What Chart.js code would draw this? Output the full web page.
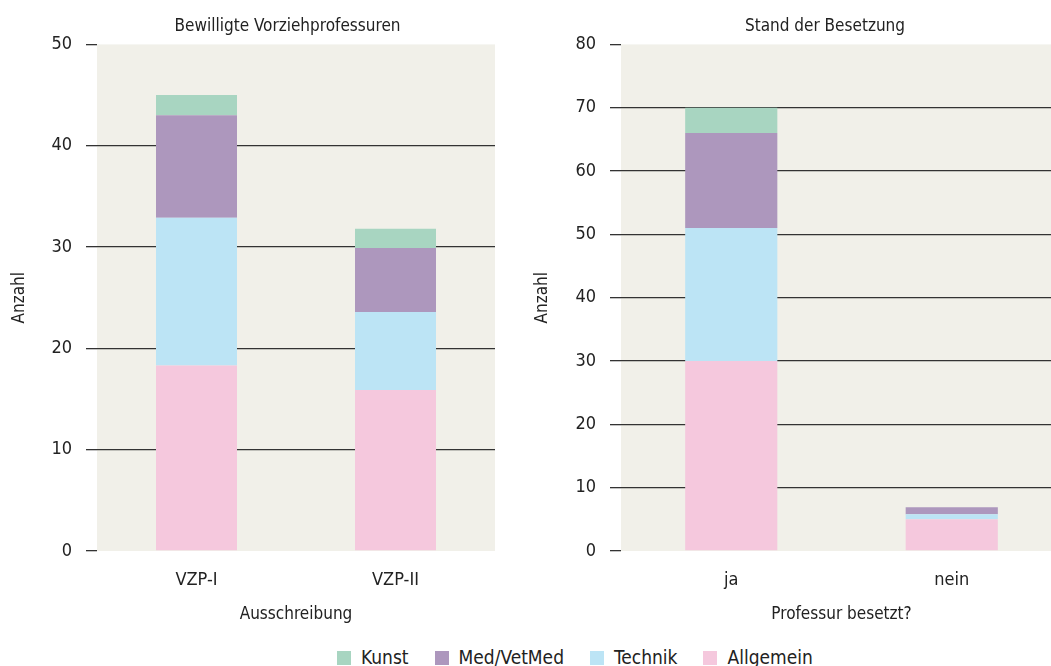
<!DOCTYPE html>
<html>
<head>
<meta charset="utf-8">
<script src="https://cdn.jsdelivr.net/npm/chart.js@4"></script>
<style>
  body { margin: 0; background: #fff; width: 1051px; height: 666px; overflow: hidden; position: relative; }
  .box { position: absolute; top: 0; height: 632px; }
  #left { left: 0; width: 575px; }
  #right { left: 523px; width: 604px; }
  .legend { position: absolute; top: 646px; left: 337px; font-family: 'DejaVu Sans Condensed', sans-serif; font-size: 19px; color: #222; white-space: nowrap; }
  .legend span.item { display: inline-block; margin-right: 26px; }
  .legend i { display: inline-block; width: 14px; height: 14px; margin-right: 10px; vertical-align: -1px; }
</style>
</head>
<body>
<div class="box" id="left"><canvas id="c1"></canvas></div>
<div class="box" id="right"><canvas id="c2"></canvas></div>
<div class="legend" id="legend"></div>
<script>
'use strict';
const fontName = "'DejaVu Sans Condensed', sans-serif";

// Bewilligte Vorziehprofessuren
const categories1 = ['VZP-I', 'VZP-II'];
const allgemein1 = [18.3, 15.9];
const technik1 = [14.6, 7.7];
const medVet1 = [10.1, 6.3];
const kunst1 = [2, 1.9];
const ticks1 = [0, 10, 20, 30, 40, 50];

// Stand der Besetzung
const categories2 = ['ja', 'nein'];
const allgemein2 = [30, 5];
const technik2 = [21, 0.8];
const medVet2 = [15, 1.1];
const kunst2 = [4, 0];
const ticks2 = [0, 10, 20, 30, 40, 50, 60, 70, 80];

const seriesNames = ['Kunst', 'Med/VetMed', 'Technik', 'Allgemein'];
const seriesColors = ['#a8d5c1', '#ad97bd', '#bce4f5', '#f5c8dd'];

const plotBg = {
  id: 'plotBg',
  beforeDraw(chart) {
    const a = chart.chartArea;
    const ctx = chart.ctx;
    ctx.save();
    ctx.fillStyle = '#f1f0e9';
    ctx.fillRect(a.left, a.top, a.right - a.left, a.bottom - a.top);
    ctx.restore();
  }
};

const makeChart = function(id, title, xTitle, cats, data, tickVals, barPct, leftW, rightW) {
  const ctx = document.getElementById(id).getContext('2d');
  const yMax = tickVals[tickVals.length - 1];
  // bottom of stack first
  const datasets = [
    { label: 'Allgemein', data: data[0], backgroundColor: seriesColors[3] },
    { label: 'Technik', data: data[1], backgroundColor: seriesColors[2] },
    { label: 'Med/VetMed', data: data[2], backgroundColor: seriesColors[1] },
    { label: 'Kunst', data: data[3], backgroundColor: seriesColors[0] }
  ];
  for (let ds of datasets) {
    ds.barPercentage = barPct;
    ds.categoryPercentage = 1;
  }
  return new Chart(ctx, {
    type: 'bar',
    data: { labels: cats, datasets: datasets },
    plugins: [plotBg],
    options: {
      responsive: true,
      maintainAspectRatio: false,
      animation: false,
      layout: { padding: { left: 0, right: 0, top: 0, bottom: 3 } },
      plugins: {
        legend: { display: false },
        tooltip: { enabled: false },
        title: {
          display: true,
          text: title,
          color: '#222',
          font: { family: fontName, size: 17, weight: 'normal' },
          padding: { top: 16, bottom: 8 }
        }
      },
      scales: {
        x: {
          stacked: true,
          grid: { display: false },
          border: { display: false },
          ticks: { color: '#222', font: { family: fontName, size: 18 }, padding: 11 },
          title: { display: true, text: xTitle, color: '#222', font: { family: fontName, size: 17 }, padding: { top: 2 } }
        },
        y: {
          stacked: true,
          min: 0,
          max: yMax,
          afterBuildTicks: function(scale) {
            scale.ticks = tickVals.map(v => ({ value: v }));
          },
          afterFit: function(scale) { scale.width = leftW; },
          border: { display: false },
          grid: {
            tickLength: 11,
            lineWidth: 1.3,
            tickColor: '#333',
            color: function(c) {
              if (!c.tick) return 'rgba(0,0,0,0)';
              return (c.tick.value === 0 || c.tick.value === yMax) ? 'rgba(0,0,0,0)' : '#333';
            }
          },
          ticks: { color: '#222', font: { family: fontName, size: 18 }, padding: 14 },
          title: { display: true, text: 'Anzahl', color: '#222', font: { family: fontName, size: 17 }, padding: { top: 9, bottom: 0 } }
        },
        // empty axis on the right, only reserves space
        yr: {
          position: 'right',
          display: true,
          grid: { display: false },
          border: { display: false },
          ticks: { display: false },
          afterFit: function(scale) { scale.width = rightW; }
        }
      }
    }
  });
};

makeChart('c1', 'Bewilligte Vorziehprofessuren', 'Ausschreibung', categories1,
  [allgemein1, technik1, medVet1, kunst1], ticks1, 0.407, 97, 80);
makeChart('c2', 'Stand der Besetzung', 'Professur besetzt?', categories2,
  [allgemein2, technik2, medVet2, kunst2], ticks2, 0.418, 98, 65);

let html = '';
for (let i = 0; i < seriesNames.length; i++) {
  html += `<span class="item"><i style="background:${seriesColors[i]}"></i>${seriesNames[i]}</span>`;
}
document.querySelector('#legend').innerHTML = html;
</script>
</body>
</html>
